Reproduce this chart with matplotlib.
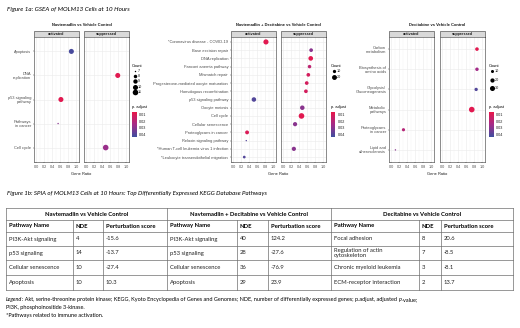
import numpy as np
import matplotlib.pyplot as plt
from matplotlib.colors import LinearSegmentedColormap, Normalize
from matplotlib.cm import ScalarMappable
from matplotlib.patches import Rectangle

W, H = 520, 328
SANS = ['Liberation Sans', 'DejaVu Sans']
BODY = ['Lato', 'DejaVu Sans']

# --- Figure 1a: GSEA dot plots ---
nav_terms = ['Apoptosis', 'DNA\nreplication', 'p53 signaling\npathway', 'Pathways\nin cancer', 'Cell cycle']
nav_facet = ['activated', 'suppressed', 'activated', 'activated', 'suppressed']
nav_ratio = [0.88, 0.79, 0.62, 0.55, 0.49]
nav_count = [10, 10, 10, 7, 11]
nav_padj = [0.042, 0.008, 0.008, 0.03, 0.027]
nav_breaks = [7, 8, 9, 10, 11]

combo_terms = ['*Coronavirus disease - COVID-19', 'Base excision repair', 'DNA replication',
               'Fanconi anemia pathway', 'Mismatch repair', 'Progesterone-mediated oocyte maturation',
               'Homologous recombination', 'p53 signaling pathway', 'Oocyte meiosis', 'Cell cycle',
               'Cellular senescence', 'Proteoglycans in cancer', 'Relaxin signaling pathway',
               '*Human T-cell leukemia virus 1 infection', '*Leukocyte transendothelial migration']
combo_facet = ['activated', 'suppressed', 'suppressed', 'suppressed', 'suppressed', 'suppressed',
               'suppressed', 'activated', 'suppressed', 'suppressed', 'suppressed', 'activated',
               'activated', 'suppressed', 'activated']
combo_ratio = [0.82, 0.70, 0.69, 0.66, 0.63, 0.59, 0.57, 0.52, 0.48, 0.46, 0.30, 0.35, 0.33, 0.27, 0.28]
combo_count = [22, 12, 18, 11, 12, 12, 12, 17, 17, 26, 15, 13, 6, 15, 8]
combo_padj = [0.008, 0.03, 0.008, 0.018, 0.012, 0.012, 0.012, 0.04, 0.03, 0.008, 0.03, 0.01,
              0.04, 0.03, 0.04]
combo_breaks = [10, 20]

dec_terms = ['Carbon\nmetabolism', 'Biosynthesis of\namino acids', 'Glycolysis/\nGluconeogenesis',
             'Metabolic\npathways', 'Proteoglycans\nin cancer', 'Lipid and\natherosclerosis']
dec_facet = ['suppressed', 'suppressed', 'suppressed', 'suppressed', 'activated', 'activated']
dec_ratio = [0.87, 0.87, 0.85, 0.74, 0.31, 0.11]
dec_count = [14, 13, 12, 38, 11, 5]
dec_padj = [0.008, 0.025, 0.04, 0.008, 0.02, 0.03]
dec_breaks = [10, 20, 30]

padj_ticks = [0.01, 0.02, 0.03, 0.04]

# --- Figure 1b: SPIA table ---
groups = ['Navtemadlin vs Vehicle Control', 'Navtemadlin + Decitabine vs Vehicle Control',
          'Decitabine vs Vehicle Control']
col_headers = ['Pathway Name', 'NDE', 'Perturbation score']
nav_spia_path = ['PI3K-Akt signaling', 'p53 signaling', 'Cellular senescence', 'Apoptosis']
nav_spia_nde = [4, 14, 10, 10]
nav_spia_score = [-15.6, -13.7, -27.4, 10.3]
combo_spia_path = ['PI3K-Akt signaling', 'p53 signaling', 'Cellular senescence', 'Apoptosis']
combo_spia_nde = [40, 28, 36, 29]
combo_spia_score = [124.2, -27.6, -76.9, 23.9]
dec_spia_path = ['Focal adhesion', 'Regulation of actin\ncytoskeleton', 'Chronic myeloid leukemia',
                 'ECM-receptor interaction']
dec_spia_nde = [8, 7, 3, 2]
dec_spia_score = [20.6, -8.5, -8.1, 13.7]

cmap = LinearSegmentedColormap.from_list('padj', ['#E8174A', '#A42B88', '#3E4E9F'])
norm = Normalize(0.006, 0.044)

fig = plt.figure(figsize=(5.2, 3.28), dpi=100)
bg = fig.add_axes([0, 0, 1, 1], zorder=-1)
bg.set_xlim(0, W)
bg.set_ylim(H, 0)
bg.axis('off')


def box(x0, y0, x1, y1):
    return [x0 / W, 1 - y1 / H, (x1 - x0) / W, (y1 - y0) / H]


def dot_px(c, lo, hi):
    # ggplot-like area scaling of point size
    t = np.clip((np.asarray(c, float) - lo) / (hi - lo), 0, 1)
    return 1.4 + 4.2 * np.sqrt(t)


def dot_s(c, lo, hi):
    return (dot_px(c, lo, hi) * 0.72) ** 2


def draw_panel(terms, facet, ratio, count, padj, breaks, lefts, title, leg_x):
    n = len(terms)
    lo, hi = min(min(count), breaks[0]), max(max(count), breaks[-1])
    y = np.arange(n)
    width = 45
    for i, name in enumerate(['activated', 'suppressed']):
        x0 = lefts[i]
        ax = fig.add_axes(box(x0, 37, x0 + width, 162))
        ax.set_xlim(-0.05, 1.07)
        ax.set_ylim(n - 0.4, -0.6)
        ax.set_xticks(np.arange(0, 1.01, 0.2))
        ax.set_xticks(np.arange(0.1, 1.0, 0.2), minor=True)
        ax.set_yticks(y)
        ax.grid(True, which='major', color='#EBEBEB', linewidth=0.4)
        ax.grid(True, which='minor', axis='x', color='#F4F4F4', linewidth=0.3)
        ax.set_axisbelow(True)
        ax.tick_params(length=1, width=0.3, color='#333333', pad=1, labelsize=2.7,
                       labelcolor='#4D4D4D')
        ax.tick_params(which='minor', length=0)
        ax.set_xticklabels([f'{v:.1f}' for v in np.arange(0, 1.01, 0.2)], fontfamily=SANS)
        if i == 0:
            ax.set_yticklabels(terms, fontfamily=SANS, fontsize=2.9, linespacing=1.0)
        else:
            ax.set_yticklabels([])
            ax.tick_params(axis='y', length=0)
        for s in ax.spines.values():
            s.set_color('#333333')
            s.set_linewidth(0.4)
        idx = [k for k in range(n) if facet[k] == name]
        ax.scatter([ratio[k] for k in idx], [y[k] for k in idx],
                   s=dot_s([count[k] for k in idx], lo, hi),
                   c=[padj[k] for k in idx], cmap=cmap, norm=norm, linewidths=0, zorder=3)
        # strip
        bg.add_patch(Rectangle((x0, 31), width, 6, facecolor='#D9D9D9', edgecolor='#333333',
                               linewidth=0.4))
        bg.text(x0 + width / 2, 34.2, name, ha='center', va='center', fontsize=2.7,
                fontweight='bold', color='#1A1A1A', family=SANS)
    mid = (lefts[0] + lefts[1] + width) / 2
    bg.text(mid, 25, title, ha='center', va='center', fontsize=2.9, fontweight='bold',
            color='#1A1A1A', family=SANS)
    bg.text(mid, 174, 'Gene Ratio', ha='center', va='center', fontsize=2.9, color='#1A1A1A',
            family=SANS)
    # size legend
    bg.text(leg_x, 66, 'Count', ha='left', va='center', fontsize=2.9, family=SANS)
    step = 26 / max(len(breaks), 3) if len(breaks) > 2 else 5.5
    for j, b in enumerate(breaks):
        yy = 71 + j * step
        bg.scatter([leg_x + 2.5], [yy], s=dot_s(b, lo, hi), color='black', linewidths=0)
        bg.text(leg_x + 6, yy, str(b), ha='left', va='center', fontsize=2.7, family=SANS,
                color='#1A1A1A')
    # colour legend
    bg.text(leg_x, 107, 'p. adjust', ha='left', va='center', fontsize=2.9, family=SANS)
    cax = fig.add_axes(box(leg_x, 112, leg_x + 4.5, 137))
    cb = fig.colorbar(ScalarMappable(norm=norm, cmap=cmap), cax=cax, ticks=padj_ticks)
    cax.invert_yaxis()
    cb.outline.set_visible(False)
    cax.tick_params(length=0, pad=1.5, labelsize=2.7, labelcolor='#1A1A1A')
    cax.set_yticklabels([f'{v:.2f}' for v in padj_ticks], fontfamily=SANS)


bg.text(7, 9, 'Figure 1a: GSEA of MOLM13 Cells at 10 Hours', ha='left', va='center',
        fontsize=4.5, style='italic', family=BODY)

draw_panel(nav_terms, nav_facet, nav_ratio, nav_count, nav_padj, nav_breaks, [34, 84],
           'Navtemadlin vs Vehicle Control', 132)
draw_panel(combo_terms, combo_facet, combo_ratio, combo_count, combo_padj, combo_breaks,
           [231, 281], 'Navtemadlin + Decitabine vs Vehicle Control', 331)
draw_panel(dec_terms, dec_facet, dec_ratio, dec_count, dec_padj, dec_breaks, [389, 440],
           'Decitabine vs Vehicle Control', 489)

bg.text(7, 193, 'Figure 1b: SPIA of MOLM13 Cells at 10 Hours: Top Differentially Expressed KEGG '
        'Database Pathways', ha='left', va='center', fontsize=4.4, style='italic', family=BODY)

# table grid
col_x = [6, 73, 103, 167, 237, 268, 331, 419, 441, 513]
row_y = [208, 220, 232, 246, 260, 275, 290]
lw = 0.5
tc = '#6E6E6E'
for yy in row_y:
    bg.plot([col_x[0], col_x[-1]], [yy, yy], color=tc, lw=lw)
for k, xx in enumerate(col_x):
    top = row_y[0] if k in (0, 3, 6, 9) else row_y[1]
    bg.plot([xx, xx], [top, row_y[-1]], color=tc, lw=lw)

fs = 4.2
for g in range(3):
    gx0, gx1 = col_x[3 * g], col_x[3 * g + 3]
    bg.text((gx0 + gx1) / 2, (row_y[0] + row_y[1]) / 2, groups[g], ha='center', va='center',
            fontsize=fs, fontweight='bold', family=BODY)
    for c in range(3):
        bg.text(col_x[3 * g + c] + 3, (row_y[1] + row_y[2]) / 2, col_headers[c], ha='left',
                va='center', fontsize=fs, fontweight='bold', family=BODY)

table_cols = [(nav_spia_path, nav_spia_nde, nav_spia_score),
              (combo_spia_path, combo_spia_nde, combo_spia_score),
              (dec_spia_path, dec_spia_nde, dec_spia_score)]
for g, (paths, ndes, scores) in enumerate(table_cols):
    for r in range(4):
        yc = (row_y[2 + r] + row_y[3 + r]) / 2
        vals = [paths[r], str(ndes[r]), f'{scores[r]:.1f}']
        for c in range(3):
            bg.text(col_x[3 * g + c] + 3, yc, vals[c], ha='left', va='center', fontsize=fs,
                    family=BODY, color='#222222', linespacing=1.0)

# footnote, mixed italic pieces chained one after another on a shared baseline
pieces = [('Legend', 'italic'),
          (': Akt, serine-threonine protein kinase; KEGG, Kyoto Encyclopedia of Genes and '
           'Genomes; NDE, number of differentially expressed genes; p.adjust, adjusted ', 'normal'),
          ('p', 'italic'), ('-value;', 'normal')]
base = 301.3
prev = bg.text(6, base, pieces[0][0], ha='left', va='baseline', fontsize=4.0, family=BODY,
               style=pieces[0][1])
for txt, st in pieces[1:]:
    prev = bg.annotate(txt, xy=(1, base), xycoords=(prev, 'data'), ha='left', va='baseline',
                       fontsize=4.0, family=BODY, style=st)
bg.text(6, 307.5, 'PI3K, phosphoinositide 3-kinase.', ha='left', va='center', fontsize=4.0,
        family=BODY)
bg.text(6, 316, '*Pathways related to immune activation.', ha='left', va='center', fontsize=4.0,
        family=BODY)

fig.savefig('out.png', dpi=100, facecolor='white')
